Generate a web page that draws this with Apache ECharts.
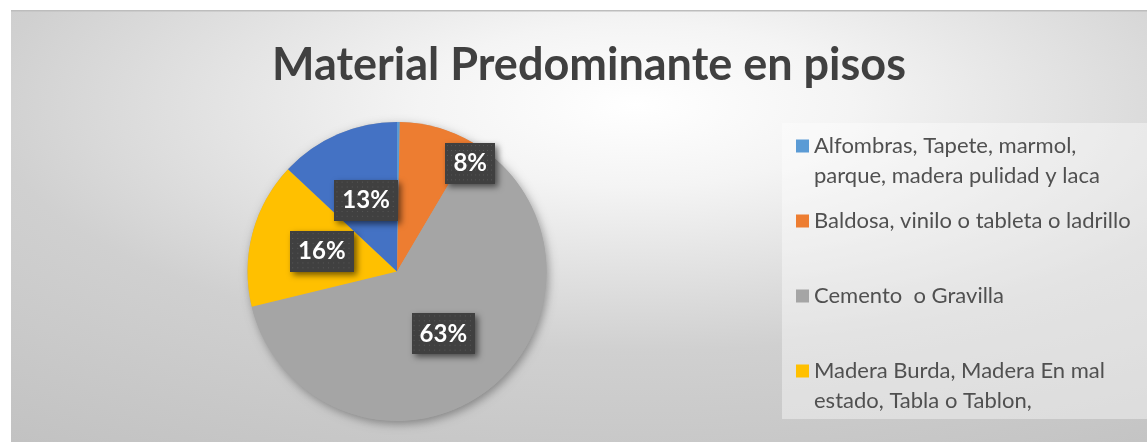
<!DOCTYPE html>
<html>
<head>
<meta charset="utf-8">
<script src="https://cdn.jsdelivr.net/npm/echarts@6/dist/echarts.min.js"></script>
<style>
html,body{margin:0;padding:0;background:#fff;}
#c{width:1147px;height:442px;}
</style>
</head>
<body>
<div id="c"></div>
<script>
// ---- data ----
const titleText = 'Material Predominante en pisos';
const categories = [
  'Alfombras, Tapete, marmol,\nparque, madera pulidad y laca',
  'Baldosa, vinilo o tableta o ladrillo',
  'Cemento  o Gravilla',
  'Madera Burda, Madera En mal\nestado, Tabla o Tablon,',
  'Tierra o Arena'
];
const shares = [0.3, 8.2, 62.7, 15.8, 13.0];
const colors = ['#5B9BD5', '#ED7D31', '#A5A5A5', '#FFC000', '#4472C4'];
const legendShown = [0, 1, 2, 3];

// ---- layout / style ----
const FONT = 'Lato, "Open Sans", sans-serif';
const pieCx = 397, pieCy = 271.5, pieR = 149.5;
const legendIconCenters = [146, 221, 296, 371];
const legendLineH = 30;
const labelOffsets = {1: [52, -33]};

function dotCanvas(w, h) {
  const cv = document.createElement('canvas');
  cv.width = w; cv.height = h;
  const g = cv.getContext('2d');
  g.fillStyle = '#404040'; g.fillRect(0, 0, w, h);
  g.fillStyle = '#585858';
  for (let y = 2; y < h; y += 5) for (let x = 2; x < w; x += 5) g.fillRect(x, y, 1, 1);
  return cv;
}

const chart = echarts.init(document.getElementById('c'), null, {renderer: 'canvas'});

const legends = legendShown.map(i => {
  const nLines = categories[i].split('\n').length;
  const blockLines = nLines === 1 ? 1 : 2 * nLines - 1;
  return {
    orient: 'vertical',
    left: 796,
    top: legendIconCenters[i] - (blockLines * legendLineH) / 2,
    padding: 0,
    itemWidth: 13,
    itemHeight: 13,
    itemGap: 0,
    icon: 'rect',
    selectedMode: false,
    data: [categories[i]],
    formatter: name => {
      const lines = name.split('\n');
      if (lines.length === 1) return name;
      return '\n'.repeat(lines.length - 1) + name;
    },
    textStyle: {fontFamily: FONT, fontSize: 22, color: '#505050', lineHeight: legendLineH}
  };
});

chart.setOption({
  animation: false,
  title: {
    text: titleText,
    left: 272,
    top: 43,
    padding: 0,
    textStyle: {fontFamily: FONT, fontSize: 45, fontWeight: 'bold', color: '#404040'}
  },
  graphic: [
    {
      type: 'rect', z: -10, silent: true,
      x: 11, y: 10, scaleX: 1136 / 432,
      shape: {x: 0, y: 0, width: 432, height: 432},
      style: {fill: new echarts.graphic.RadialGradient(0.55, 0.22, 0.95, [
        {offset: 0, color: '#ffffff'},
        {offset: 0.2, color: '#f4f4f4'},
        {offset: 0.6, color: '#d0d0d0'},
        {offset: 1, color: '#c2c2c2'}
      ])}
    },
    {
      type: 'rect', z: -9, silent: true,
      shape: {x: 11, y: 10, width: 1136, height: 1.5},
      style: {fill: '#bdbdbd'}
    },
    {
      type: 'rect', z: -8, silent: true,
      shape: {x: 782, y: 123, width: 365, height: 296},
      style: {fill: 'rgba(255,255,255,0.4)'}
    },
    {
      type: 'circle', z: -5, silent: true,
      shape: {cx: pieCx, cy: pieCy, r: pieR},
      style: {fill: '#a5a5a5', shadowBlur: 10, shadowOffsetX: 2, shadowOffsetY: 3, shadowColor: 'rgba(0,0,0,0.35)'}
    }
  ],
  legend: legends,
  series: [{
    type: 'pie',
    center: [pieCx, pieCy],
    radius: [0, pieR],
    startAngle: 90,
    clockwise: true,
    avoidLabelOverlap: false,
    silent: true,
    itemStyle: {borderWidth: 0},
    label: {
      position: 'inside',
      formatter: p => Math.round(p.percent) + '%',
      fontFamily: FONT,
      fontSize: 24,
      fontWeight: 'bold',
      color: '#ffffff',
      backgroundColor: {image: dotCanvas(62, 42)},
      padding: [9, 8, 8, 8],
      shadowColor: 'rgba(0,0,0,0.55)',
      shadowBlur: 6,
      shadowOffsetX: 3,
      shadowOffsetY: 3
    },
    labelLine: {show: false},
    data: categories.map((name, i) => ({
      name,
      value: shares[i],
      itemStyle: {color: colors[i]},
      label: Object.assign({show: shares[i] >= 1}, labelOffsets[i] ? {offset: labelOffsets[i]} : {})
    }))
  }]
});
</script>
</body>
</html>
